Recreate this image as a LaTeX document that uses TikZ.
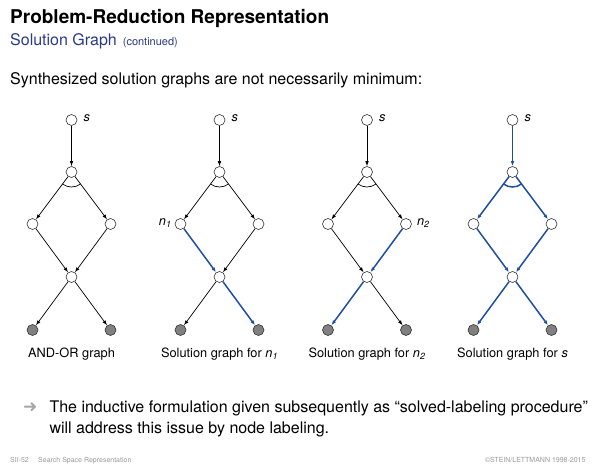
\documentclass[tikz,border=0pt]{standalone}
\usepackage{fontspec}
\setmainfont{TeX Gyre Heros}
\newfontfamily\symfont{DejaVu Sans}
\usetikzlibrary{arrows.meta,positioning}
\definecolor{solblue}{RGB}{31,78,163}
\definecolor{headblue}{RGB}{43,58,140}

\begin{document}
\begin{tikzpicture}[
		x=1pt,y=1pt,
		lab/.style={font=\fontsize{12.8}{15}\selectfont,inner sep=1pt},
		txt/.style={font=\fontsize{16}{19}\selectfont,anchor=base west,inner sep=0pt},
		foot/.style={font=\fontsize{7}{8}\selectfont,text=black!40,anchor=base west,inner sep=0pt},
		arr/.style={-{Latex[length=5pt,width=3.6pt]},line width=0.7pt},
		sol/.style={arr,draw=solblue,line width=1.5pt},
		nd/.style={circle,draw=black!80,fill=white,line width=0.6pt,minimum size=11pt,inner sep=0pt},
		leaf/.style={nd,fill=black!50},
		andarc/.style={line width=0.7pt}
		]
		
		\useasboundingbox[fill=white] (0,0) rectangle (600,467);
		
		% --- Heading and text
		\node[txt,font=\bfseries\fontsize{19}{22}\selectfont] (title) at (10,443) {Problem-Reduction Representation};
		\node[txt,text=headblue] (sub) at (10,421) {Solution Graph\hspace{6pt}{\fontsize{11}{12}\selectfont(continued)}};
		\node[txt] (intro) at (10,382) {Synthesized solution graphs are not necessarily minimum:};
		
		% --- Graph 1: AND-OR graph
		\begin{scope}[xshift=71.5pt]
			\node[nd] (s1) at (0,347) {};
			\node[nd] (a1) at (0,295) {};
			\node[nd] (l1) at (-39,243) {};
			\node[nd] (r1) at (39,243) {};
			\node[nd] (m1) at (0,190) {};
			\node[leaf] (p1) at (-39,137) {};
			\node[leaf] (q1) at (39,137) {};
			\node[lab,right=5pt of s1,yshift=1.5pt] (ls1) {\itshape s};
			
			\draw[arr] (s1) -- (a1);
			\draw[arr] (a1) -- (l1);
			\draw[arr] (a1) -- (r1);
			\draw[arr] (l1) -- (m1);
			\draw[arr] (r1) -- (m1);
			\draw[arr] (m1) -- (p1);
			\draw[arr] (m1) -- (q1);
			\draw[andarc] ([shift={(-127:15pt)}]a1.center) arc[start angle=-127,end angle=-53,radius=15pt];
			
			\node[lab,anchor=base] (cap1) at (0,110) {AND-OR graph};
		\end{scope}
		
		% --- Graph 2: solution graph for n1
		\begin{scope}[xshift=219.5pt]
			\node[nd] (s2) at (0,347) {};
			\node[nd] (a2) at (0,295) {};
			\node[nd] (l2) at (-39,243) {};
			\node[nd] (r2) at (39,243) {};
			\node[nd] (m2) at (0,190) {};
			\node[leaf] (p2) at (-39,137) {};
			\node[leaf] (q2) at (39,137) {};
			\node[lab,right=5pt of s2,yshift=1.5pt] (ls2) {\itshape s};
			\node[lab,left=2pt of l2,yshift=1pt] (ln2) {\itshape n\textsubscript{1}};
			
			\draw[arr] (s2) -- (a2);
			\draw[arr] (a2) -- (l2);
			\draw[arr] (a2) -- (r2);
			\draw[sol] (l2) -- (m2);
			\draw[arr] (r2) -- (m2);
			\draw[arr] (m2) -- (p2);
			\draw[sol] (m2) -- (q2);
			\draw[andarc] ([shift={(-127:15pt)}]a2.center) arc[start angle=-127,end angle=-53,radius=15pt];
			
			\node[lab,anchor=base] (cap2) at (0,110) {Solution graph for {\itshape n\textsubscript{1}}};
		\end{scope}
		
		% --- Graph 3: solution graph for n2
		\begin{scope}[xshift=367pt]
			\node[nd] (s3) at (0,347) {};
			\node[nd] (a3) at (0,295) {};
			\node[nd] (l3) at (-39,243) {};
			\node[nd] (r3) at (39,243) {};
			\node[nd] (m3) at (0,190) {};
			\node[leaf] (p3) at (-39,137) {};
			\node[leaf] (q3) at (39,137) {};
			\node[lab,right=5pt of s3,yshift=1.5pt] (ls3) {\itshape s};
			\node[lab,right=4pt of r3,yshift=1pt] (ln3) {\itshape n\textsubscript{2}};
			
			\draw[arr] (s3) -- (a3);
			\draw[arr] (a3) -- (l3);
			\draw[arr] (a3) -- (r3);
			\draw[arr] (l3) -- (m3);
			\draw[sol] (r3) -- (m3);
			\draw[sol] (m3) -- (p3);
			\draw[arr] (m3) -- (q3);
			\draw[andarc] ([shift={(-127:15pt)}]a3.center) arc[start angle=-127,end angle=-53,radius=15pt];
			
			\node[lab,anchor=base] (cap3) at (0,110) {Solution graph for {\itshape n\textsubscript{2}}};
		\end{scope}
		
		% --- Graph 4: solution graph for s
		\begin{scope}[xshift=512.5pt]
			\node[nd] (s4) at (0,347) {};
			\node[nd] (a4) at (0,295) {};
			\node[nd] (l4) at (-39,243) {};
			\node[nd] (r4) at (39,243) {};
			\node[nd] (m4) at (0,190) {};
			\node[leaf] (p4) at (-39,137) {};
			\node[leaf] (q4) at (39,137) {};
			\node[lab,right=5pt of s4,yshift=1.5pt] (ls4) {\itshape s};
			
			\draw[sol] (s4) -- (a4);
			\draw[sol] (a4) -- (l4);
			\draw[sol] (a4) -- (r4);
			\draw[sol] (l4) -- (m4);
			\draw[sol] (r4) -- (m4);
			\draw[sol] (m4) -- (p4);
			\draw[sol] (m4) -- (q4);
			\draw[andarc,draw=solblue,line width=1.5pt] ([shift={(-127:15pt)}]a4.center) arc[start angle=-127,end angle=-53,radius=15pt];
			
			\node[lab,anchor=base] (cap4) at (0,110) {Solution graph for {\itshape s}};
		\end{scope}
		
		% --- Remark
		\node[txt,text=black!35,font=\symfont\fontsize{17}{19}\selectfont] (bul) at (23,55) {➜};
		\node[txt] (note1) at (49.3,55) {The inductive formulation given subsequently as “solved-labeling procedure”};
		\node[txt] (note2) at ([yshift=-21.3pt]note1.base west) {will address this issue by node labeling.};
		
		% --- Footer
		\node[foot] (foot1) at (10,4.3) {SII-52};
		\node[foot] (foot2) at (38,4.3) {Search Space Representation};
		\node[foot,anchor=base east] (foot3) at (585.7,4.3) {©STEIN/LETTMANN 1998-2015};
		
	\end{tikzpicture}
\end{document}
